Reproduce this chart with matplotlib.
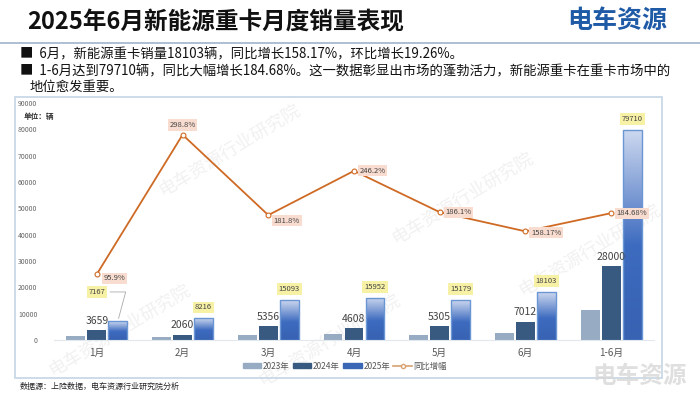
import matplotlib.pyplot as plt
import numpy as np
from matplotlib.colors import LinearSegmentedColormap
from matplotlib.patches import Rectangle, Patch
from matplotlib.lines import Line2D

plt.rcParams['font.family'] = ['Noto Sans CJK SC', 'DejaVu Sans']

categories = ['1月', '2月', '3月', '4月', '5月', '6月', '1-6月']
sales_2023 = [1600, 1000, 1800, 2150, 1800, 2800, 11300]
sales_2024 = [3659, 2060, 5356, 4608, 5305, 7012, 28000]
sales_2025 = [7167, 8216, 15093, 15952, 15179, 18103, 79710]
yoy_growth = [95.9, 298.8, 181.8, 246.2, 186.1, 158.17, 184.68]
yoy_labels = ['95.9%', '298.8%', '181.8%', '246.2%', '186.1%', '158.17%', '184.68%']

W, H = 700, 394
fig = plt.figure(figsize=(7, 3.94), dpi=100)
fig.patch.set_facecolor('white')


def fx(px):
    return px / W


def fy(py):
    return 1 - py / H


# faint watermarks, behind everything
for (x, y) in [(230, 150), (463, 198), (120, 330), (330, 340), (590, 250)]:
    fig.text(fx(x), fy(y), '电车资源行业研究院', rotation=31, fontsize=13,
             color='#d0d0d0', alpha=0.3, ha='center', va='center', zorder=-5)

# header
fig.text(fx(27), fy(22), '2025年6月新能源重卡月度销量表现', fontsize=17,
         fontweight='bold', color='#111111', va='center')
fig.text(fx(617), fy(21), '电车资源', fontsize=18, fontweight='bold',
         color='#1f5aa6', ha='center', va='center')
fig.add_artist(Line2D([0, 1], [fy(43), fy(43)], color='#9fb3cc', lw=1.2))

fig.text(fx(20), fy(54), '■  6月，新能源重卡销量18103辆，同比增长158.17%，环比增长19.26%。',
         fontsize=9.6, color='#111111', va='center')
fig.text(fx(20), fy(71), '■  1-6月达到79710辆，同比大幅增长184.68%。这一数据彰显出市场的蓬勃活力，新能源重卡在重卡市场中的',
         fontsize=9.6, color='#111111', va='center')
fig.text(fx(30), fy(87), '地位愈发重要。', fontsize=9.6, color='#111111', va='center')

# chart frame
fig.add_artist(Rectangle((fx(15), fy(378)), fx(662 - 15), (378 - 97) / H,
                         fill=False, edgecolor='#c5d6e6', lw=1.2))

ax = fig.add_axes([fx(54), fy(340), fx(600), (340 - 103) / H])
ax.set_facecolor('none')
x = np.arange(len(categories))
bw = 0.22
off = 0.245

c23 = '#97abc2'
c24 = '#385a80'
c25 = '#3a66b6'

ax.bar(x - off, sales_2023, bw, color=c23, zorder=2)
ax.bar(x, sales_2024, bw, color=c24, zorder=2)
bars25 = ax.bar(x + off, sales_2025, bw, color='none', edgecolor='#6a96d4', lw=1, zorder=4)

cmap = LinearSegmentedColormap.from_list('g', [(0, '#3862b2'), (0.45, '#3d6bbf'), (1, '#cdd8ef')])
grad = np.linspace(0, 1, 256).reshape(-1, 1)
for b in bars25:
    im = ax.imshow(grad, cmap=cmap, origin='lower', aspect='auto',
                   extent=[b.get_x(), b.get_x() + b.get_width(), 0, b.get_height()], zorder=3)
    im.set_clip_path(b)

ax.set_xlim(-0.5, len(categories) - 0.5)
ax.set_ylim(0, 90000)
ax.set_yticks(np.arange(0, 90001, 10000))
ax.tick_params(axis='y', labelsize=5, colors='#666666', length=0, pad=12)
ax.set_xticks(x)
ax.set_xticklabels(categories)
ax.tick_params(axis='x', labelsize=7, colors='#555555', length=0, pad=6)
for s in ['top', 'right', 'left']:
    ax.spines[s].set_visible(False)
ax.spines['bottom'].set_color('#e3e8ef')

for i, v in enumerate(sales_2024):
    ax.annotate(str(v), (x[i], v), xytext=(0, 3), textcoords='offset points',
                ha='center', va='bottom', fontsize=7.5, color='#444444', zorder=5)

box25 = dict(boxstyle='square,pad=0.25', fc='#f7f1a6', ec='none')
for i, v in enumerate(sales_2025):
    if i == 0:
        ax.annotate(str(v), (x[i] + off, v), xytext=(-15, 21), textcoords='offset points',
                    ha='center', va='center', fontsize=5.5, color='#444444', bbox=box25,
                    arrowprops=dict(arrowstyle='-', color='#aaaaaa', lw=0.6,
                                    connectionstyle='angle,angleA=0,angleB=75,rad=0'), zorder=5)
    else:
        ax.annotate(str(v), (x[i] + off, v), xytext=(0, 5), textcoords='offset points',
                    ha='center', va='bottom', fontsize=5.5, color='#444444', bbox=box25, zorder=5)

ax.text(-0.5, 85000, '单位：辆', fontsize=5.5, fontweight='bold', color='#333333',
        ha='right', va='center', transform=ax.transData, clip_on=False)

ax2 = ax.twinx()
ax2.set_ylim(0, 345)
ax2.plot(x, yoy_growth, color='#cf6a24', lw=1.3, marker='o', ms=3.5,
         mfc='white', mec='#cf6a24', mew=0.8, zorder=6)
ax2.axis('off')

boxl = dict(boxstyle='square,pad=0.2', fc='#f8dccf', ec='none')
offsets = [(5, -3, 'left'), (0, 7, 'center'), (4, -4, 'left'), (4, 0, 'left'),
           (4, 0, 'left'), (4, -1, 'left'), (4, 0, 'left')]
for i, (v, lab) in enumerate(zip(yoy_growth, yoy_labels)):
    dx, dy, ha = offsets[i]
    ax2.annotate(lab, (x[i], v), xytext=(dx, dy), textcoords='offset points',
                 ha=ha, va='center', fontsize=5.5, color='#444444', bbox=boxl, zorder=7)

handles = [Patch(color=c23, label='2023年'), Patch(color=c24, label='2024年'),
           Patch(color=c25, label='2025年'),
           Line2D([0], [0], color='#d9a070', marker='o', ms=3, mfc='white', mec='#d9a070', lw=1.2, label='同比增幅')]
fig.legend(handles=handles, loc='center', bbox_to_anchor=(fx(345), fy(366)), ncol=4,
           frameon=False, fontsize=6, handlelength=2.2, handleheight=0.6, columnspacing=0.4,
           handletextpad=0.2, labelcolor='#555555')

fig.text(fx(20), fy(386), '数据源：上险数据，电车资源行业研究院分析', fontsize=5.8,
         color='#222222', va='center')
fig.text(fx(640), fy(376), '电车资源', fontsize=17, fontweight='bold', color='#d8d8d8',
         ha='center', va='center', alpha=0.8)

fig.savefig('out.png', dpi=100)
